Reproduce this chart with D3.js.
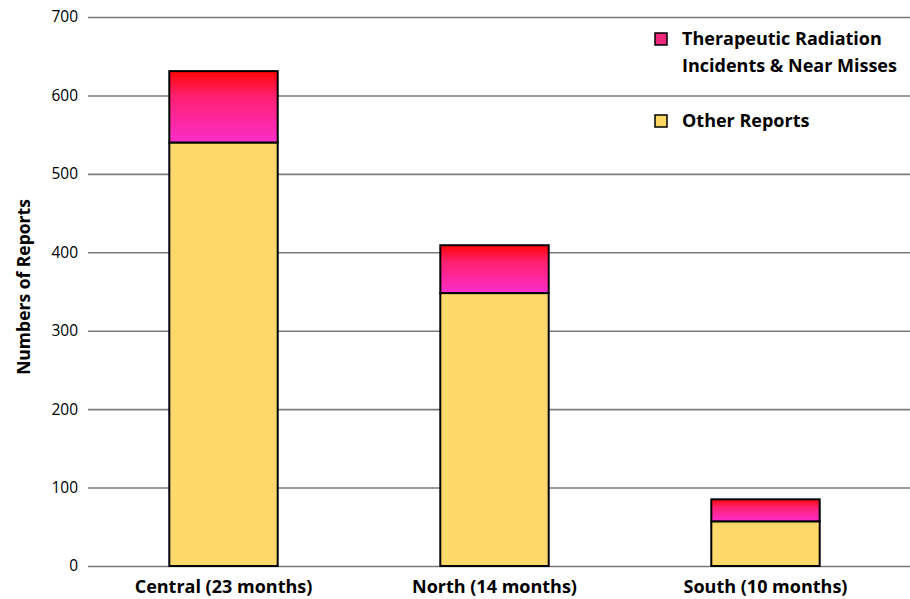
<!DOCTYPE html>
<html>
<head>
<meta charset="utf-8">
<script src="https://cdn.jsdelivr.net/npm/d3@7"></script>
<style>
  body { margin: 0; background: #fff; }
  svg { display: block; }
  text { font-family: "Open Sans", Lato, sans-serif; fill: #000; }
</style>
</head>
<body>
<svg id="chart" width="910" height="599"></svg>
<script>
// Reports by region, split into therapeutic radiation incidents and everything else
const regions = ["Central (23 months)", "North (14 months)", "South (10 months)"];
const otherReports = [540, 348, 57];
const radiationReports = [91, 61, 28];
const yTicks = [0, 100, 200, 300, 400, 500, 600, 700];
const legendLabels = [["Therapeutic Radiation", "Incidents & Near Misses"], ["Other Reports"]];

const svg = d3.select("#chart");
const margin = { left: 88, right: 9, top: 17, bottom: 33 };
const W = 910, H = 599;

const x = d3.scaleBand().domain(regions)
  .range([margin.left, W - margin.right]).paddingInner(0.6).paddingOuter(0.3);
const y = d3.scaleLinear().domain([0, 700]).range([H - margin.bottom, margin.top]);

// gradient for the radiation segment: red on top fading into magenta
const defs = svg.append("defs");
const grad = defs.append("linearGradient").attr("id", "radGrad")
  .attr("x1", 0).attr("y1", 0).attr("x2", 0).attr("y2", 1);
grad.append("stop").attr("offset", "0%").attr("stop-color", "#ff0505");
grad.append("stop").attr("offset", "35%").attr("stop-color", "#ff2070");
grad.append("stop").attr("offset", "100%").attr("stop-color", "#fb2ecb");

// gridlines with tick labels
const yAxis = d3.axisLeft(y).tickValues(yTicks).tickSize(-(W - margin.left)).tickPadding(10);
const gy = svg.append("g").attr("transform", `translate(${margin.left},0)`).call(yAxis);
gy.select(".domain").remove();
gy.selectAll(".tick line").attr("stroke", "#7a7a7a").attr("stroke-width", 1.6);
gy.selectAll(".tick text").attr("font-size", 15.5).attr("fill", "#222")
  .style("font-family", "'Open Sans', Lato, sans-serif");

// stacked bars
const bars = svg.append("g");
regions.forEach((r, i) => {
  const base = otherReports[i];
  const top = base + radiationReports[i];
  bars.append("rect")
    .attr("x", x(r)).attr("width", x.bandwidth())
    .attr("y", y(base)).attr("height", y(0) - y(base))
    .attr("fill", "#fdd86a").attr("stroke", "#000").attr("stroke-width", 2);
  bars.append("rect")
    .attr("x", x(r)).attr("width", x.bandwidth())
    .attr("y", y(top)).attr("height", y(base) - y(top))
    .attr("fill", "url(#radGrad)").attr("stroke", "#000").attr("stroke-width", 2);
});

// category labels
svg.append("g").selectAll("text").data(regions).join("text")
  .attr("x", d => x(d) + x.bandwidth() / 2).attr("y", 593)
  .attr("text-anchor", "middle").attr("font-size", 18).attr("font-weight", "bold")
  .text(d => d);

// y axis title
svg.append("text")
  .attr("transform", "translate(30,287) rotate(-90)")
  .attr("text-anchor", "middle").attr("font-size", 17.5).attr("font-weight", "bold")
  .text("Numbers of Reports");

// legend
const legendColors = ["#f0287e", "#fdd663"];
const legendY = [39, 121];
const lg = svg.append("g");
legendLabels.forEach((lines, i) => {
  lg.append("rect").attr("x", 655).attr("y", legendY[i] - 6).attr("width", 12).attr("height", 12)
    .attr("fill", legendColors[i]).attr("stroke", "#000").attr("stroke-width", 1.5);
  lines.forEach((t, j) => {
    lg.append("text").attr("x", 682).attr("y", legendY[i] + 6 + j * 27)
      .attr("font-size", 18).attr("font-weight", "bold").text(t);
  });
});
</script>
</body>
</html>
